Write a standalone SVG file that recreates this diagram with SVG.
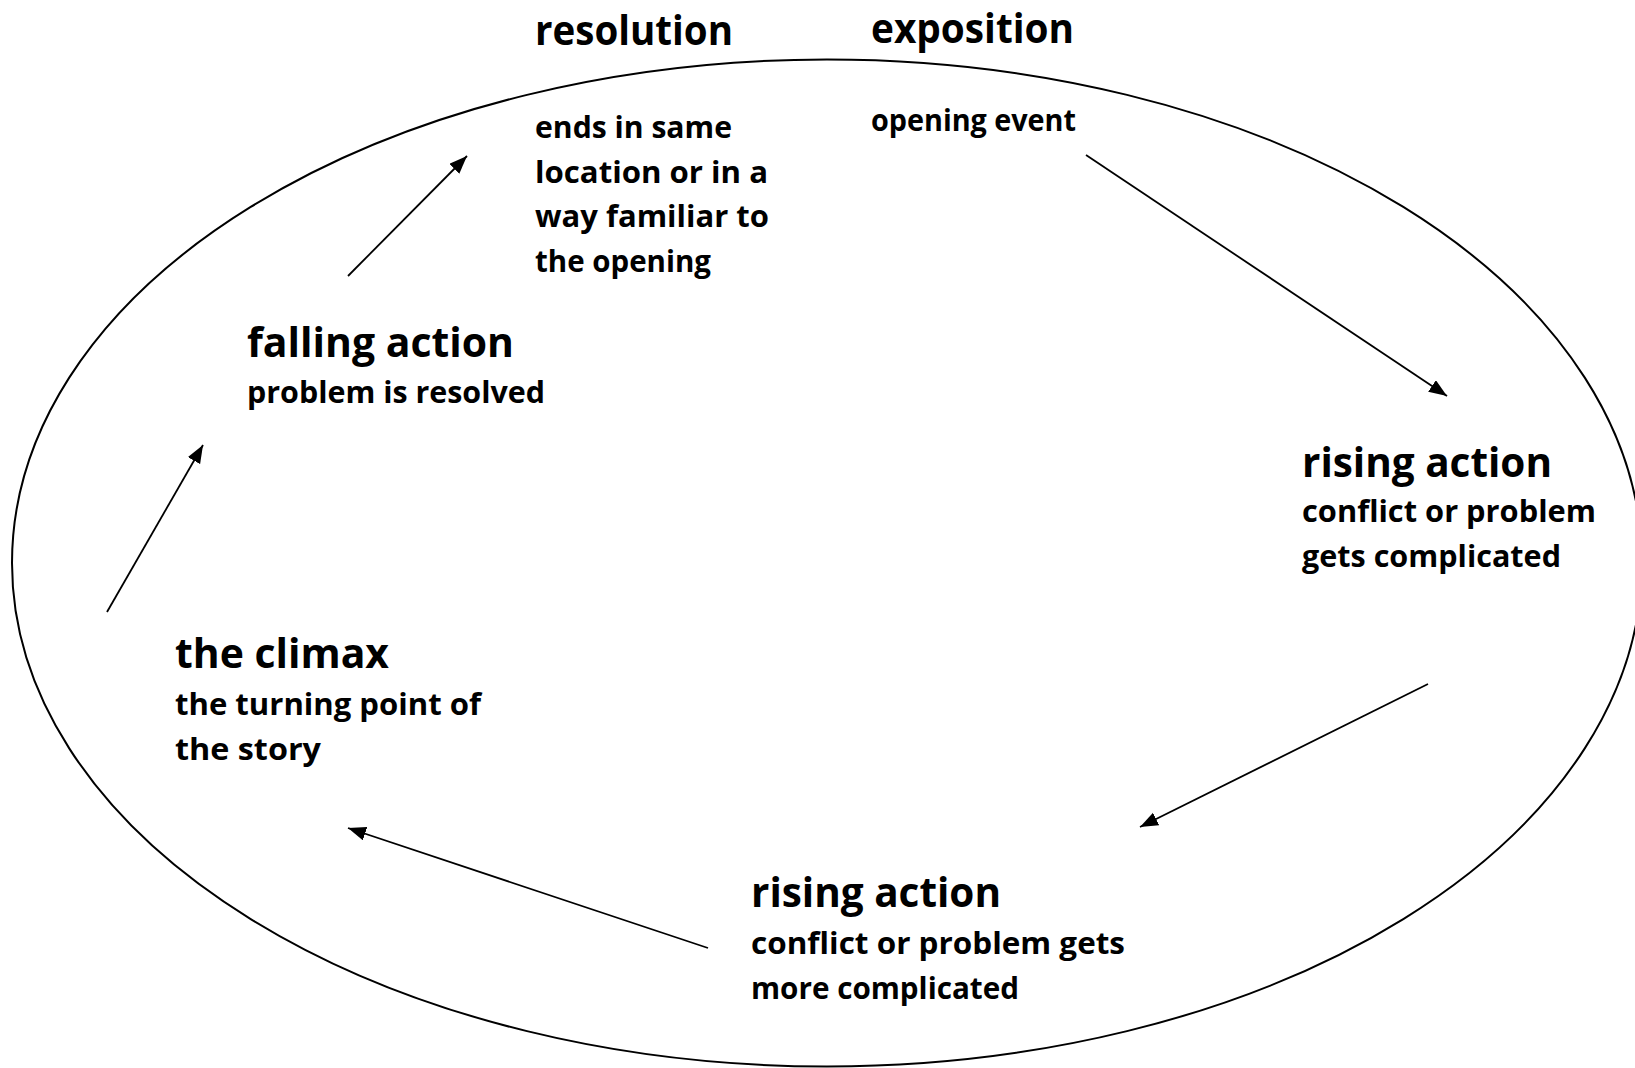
<svg xmlns="http://www.w3.org/2000/svg" width="1635" height="1068" viewBox="0 0 1635 1068">
  <style>
    text { font-family: "Open Sans", "Noto Sans", "DejaVu Sans", sans-serif; font-weight: 700; fill: #000; }
    .h { font-size: 41px; }
    .s { font-size: 30px; }
    .conn { stroke: #000; stroke-width: 1.8; fill: none; marker-end: url(#arrow); }
    .cycle { stroke: #000; stroke-width: 2; fill: #fff; }
  </style>
  <defs>
    <marker id="arrow" markerUnits="userSpaceOnUse" markerWidth="19" markerHeight="15" refX="18" refY="7" orient="auto">
      <path d="M0,0 L18,7 L0,14 z" fill="#000"/>
    </marker>
  </defs>
  <rect x="0" y="0" width="1635" height="1068" fill="#fff"/>
  <g id="cycle">
    <ellipse class="cycle" cx="827" cy="563" rx="815" ry="503.5"/>
  </g>
  <g id="connectors">
    <line class="conn" x1="1086" y1="155" x2="1447" y2="396"/>
    <line class="conn" x1="1428" y1="684" x2="1140" y2="827"/>
    <line class="conn" x1="708" y1="948" x2="348" y2="828"/>
    <line class="conn" x1="107" y1="612" x2="203" y2="445"/>
    <line class="conn" x1="348" y1="276" x2="467" y2="156"/>
  </g>
  <g id="resolution">
    <text class="h" x="535" y="45" textLength="198" lengthAdjust="spacingAndGlyphs">resolution</text>
    <text class="s" x="535" y="137.5" textLength="197" lengthAdjust="spacingAndGlyphs">ends in same</text>
    <text class="s" x="535" y="182.5" textLength="233" lengthAdjust="spacingAndGlyphs">location or in a</text>
    <text class="s" x="535" y="227" textLength="234" lengthAdjust="spacingAndGlyphs">way familiar to</text>
    <text class="s" x="535" y="271.5" textLength="176" lengthAdjust="spacingAndGlyphs">the opening</text>
  </g>
  <g id="exposition">
    <text class="h" x="871" y="43" textLength="203" lengthAdjust="spacingAndGlyphs">exposition</text>
    <text class="s" x="871" y="131" textLength="205" lengthAdjust="spacingAndGlyphs">opening event</text>
  </g>
  <g id="rising-action-1">
    <text class="h" x="1302" y="476.5" textLength="250" lengthAdjust="spacingAndGlyphs">rising action</text>
    <text class="s" x="1302" y="521.5" textLength="294" lengthAdjust="spacingAndGlyphs">conflict or problem</text>
    <text class="s" x="1302" y="566.5" textLength="259" lengthAdjust="spacingAndGlyphs">gets complicated</text>
  </g>
  <g id="rising-action-2">
    <text class="h" x="751" y="907" textLength="250" lengthAdjust="spacingAndGlyphs">rising action</text>
    <text class="s" x="751" y="954" textLength="374" lengthAdjust="spacingAndGlyphs">conflict or problem gets</text>
    <text class="s" x="751" y="999" textLength="268" lengthAdjust="spacingAndGlyphs">more complicated</text>
  </g>
  <g id="climax">
    <text class="h" x="175" y="668" textLength="214" lengthAdjust="spacingAndGlyphs">the climax</text>
    <text class="s" x="175" y="714.5" textLength="306" lengthAdjust="spacingAndGlyphs">the turning point of</text>
    <text class="s" x="175" y="759.5" textLength="146" lengthAdjust="spacingAndGlyphs">the story</text>
  </g>
  <g id="falling-action">
    <text class="h" x="247" y="356.5" textLength="267" lengthAdjust="spacingAndGlyphs">falling action</text>
    <text class="s" x="247" y="403" textLength="298" lengthAdjust="spacingAndGlyphs">problem is resolved</text>
  </g>
</svg>
